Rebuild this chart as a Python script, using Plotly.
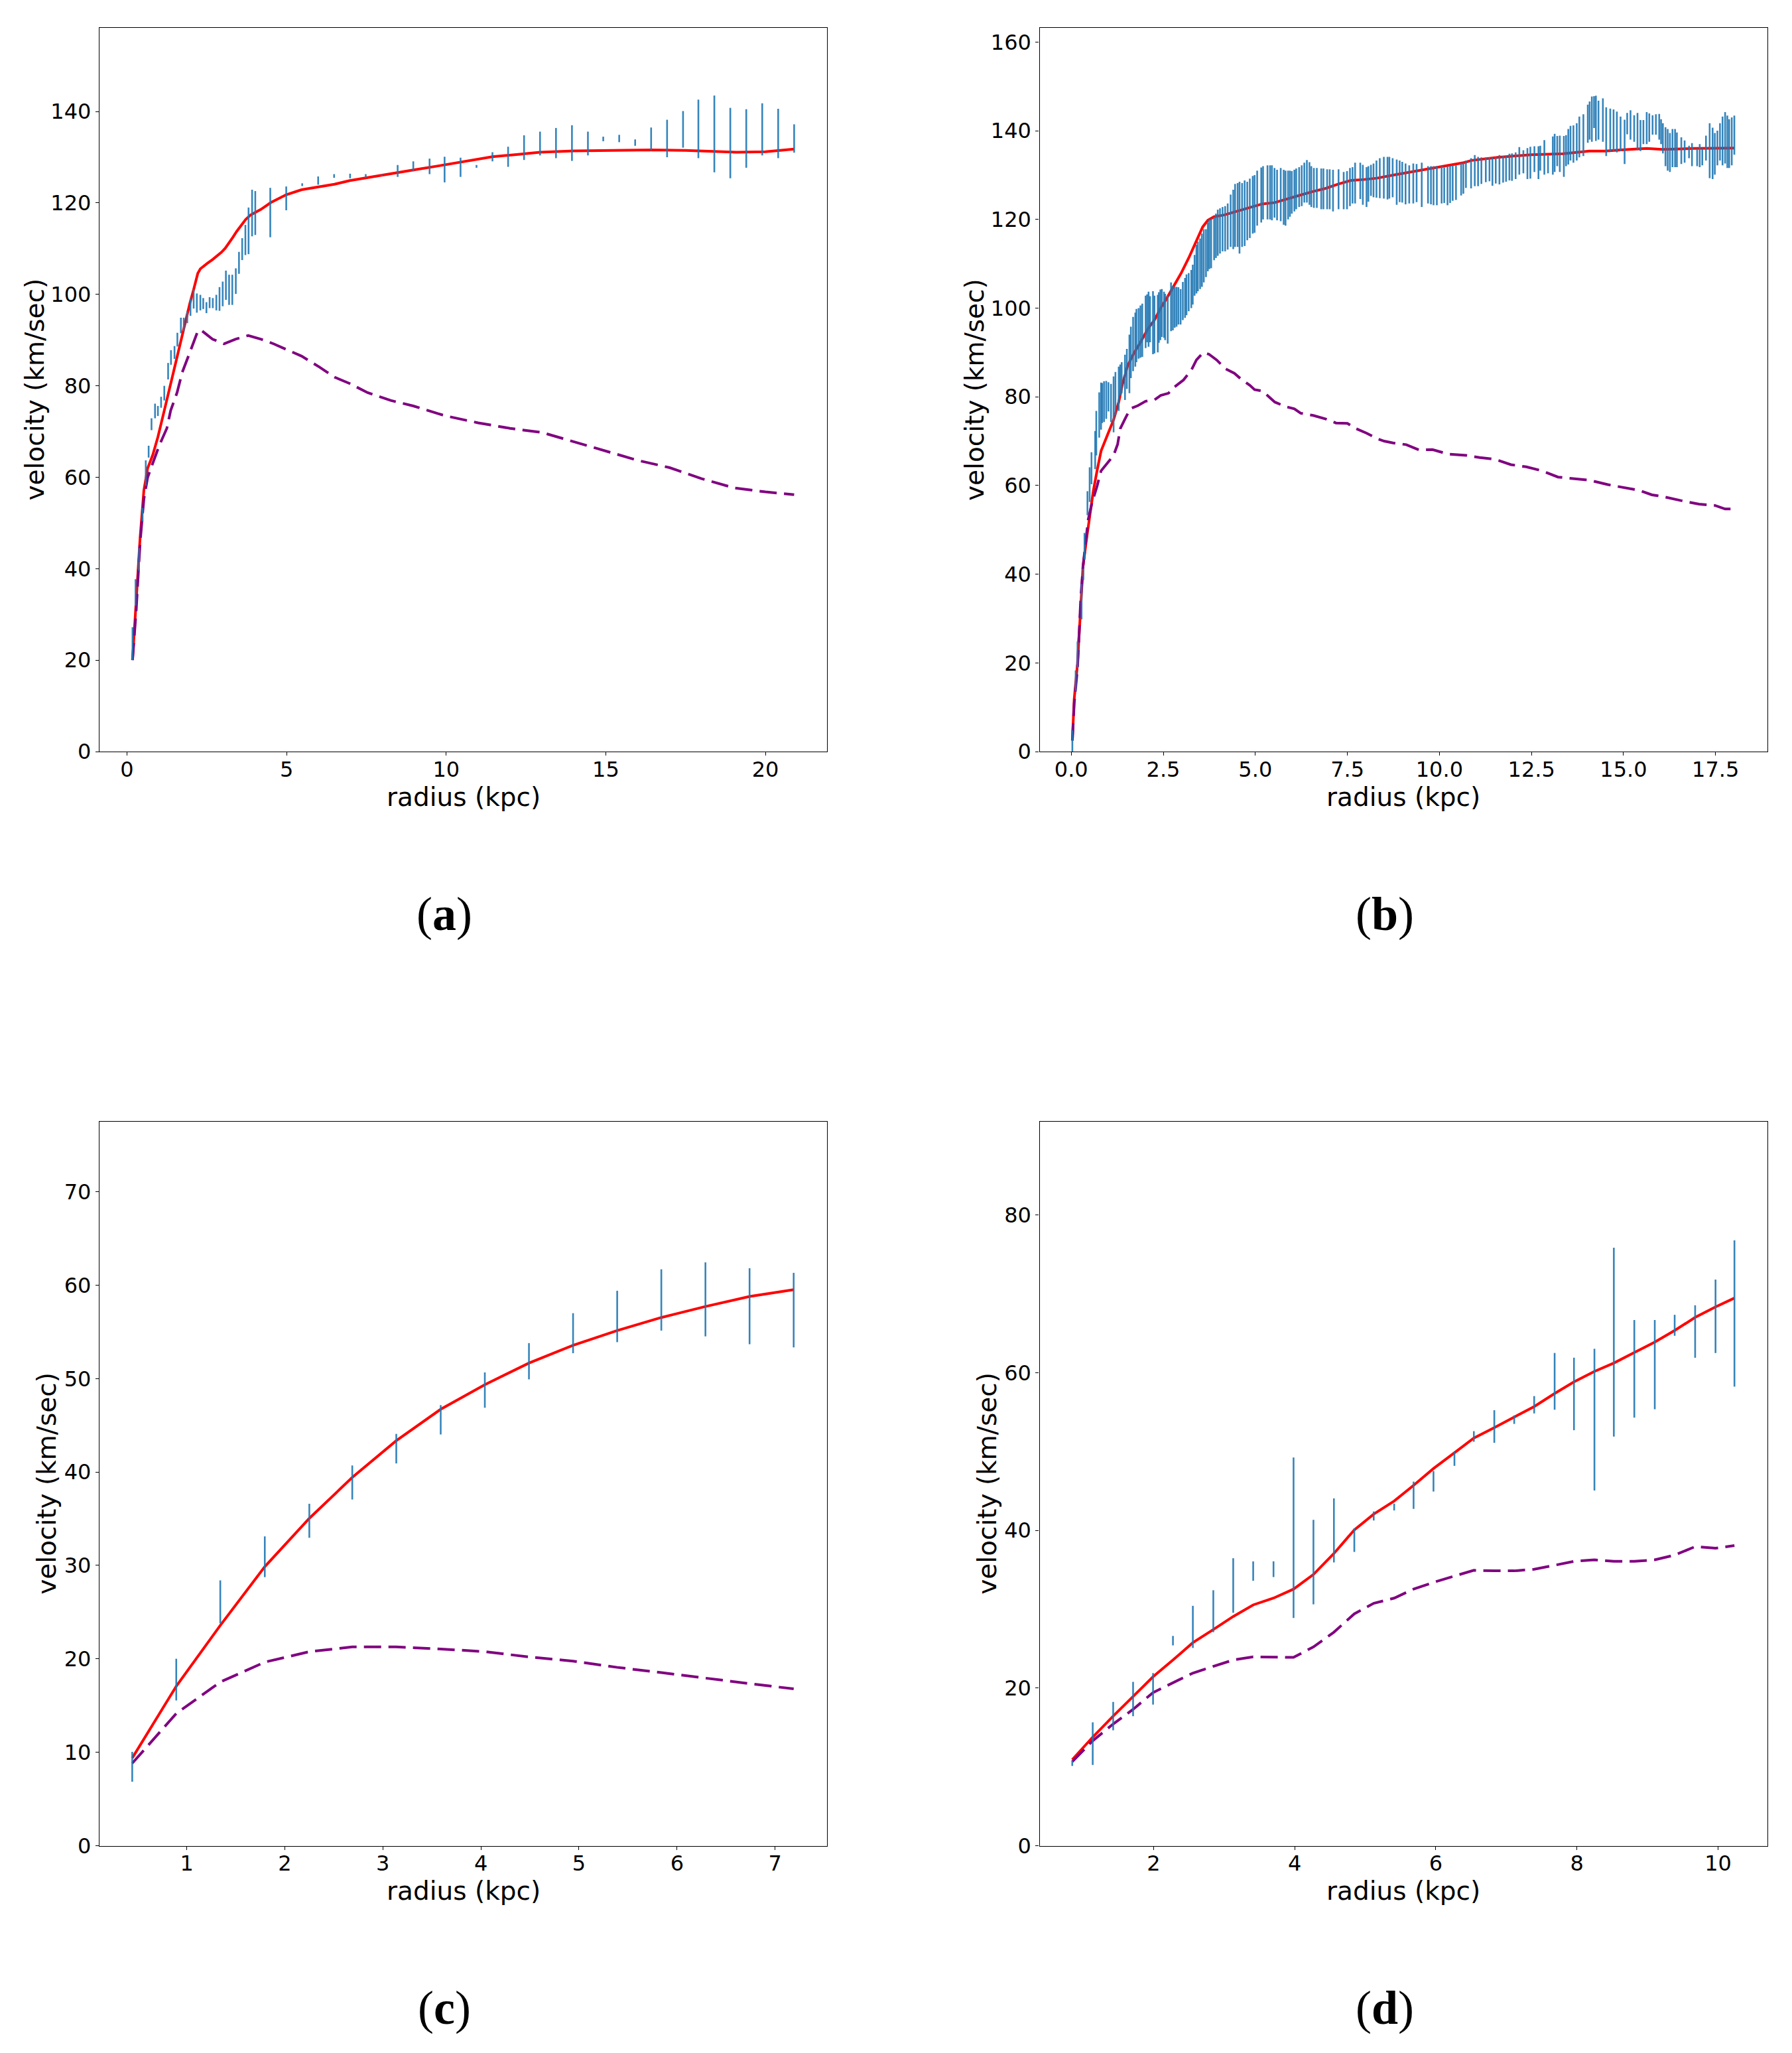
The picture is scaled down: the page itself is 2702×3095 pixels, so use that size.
import plotly.graph_objects as go

# ---------------- Panel (a) ----------------
a_r = [0.175,0.27,0.38,0.49,0.59,0.68,0.77,0.88,0.97,1.07,1.17,1.29,1.38,1.49,1.58,1.69,1.78,1.89,1.99,2.09,
       2.19,2.30,2.39,2.49,2.59,2.69,2.80,2.90,3.00,3.10,3.20,3.30,3.41,3.51,3.61,3.71,3.81,3.92,4.02,4.49,
       4.99,5.49,5.99,6.49,6.99,7.48,7.98,8.48,8.97,9.48,9.95,10.45,10.95,11.45,11.94,12.44,12.94,13.44,13.94,14.44,
       14.92,15.42,15.92,16.42,16.92,17.42,17.90,18.40,18.90,19.40,19.90,20.40,20.90]
a_v = [23.6,34.8,42.0,51.8,60.9,65.6,71.6,74.5,74.5,76.4,78.4,83.2,86.2,87.3,90.1,93.2,93.4,95.0,97.2,99.0,
       98.1,98.2,98.0,97.1,98.2,98.1,98.2,99.0,100.1,102.0,101.0,101.0,102.9,106.9,109.9,111.9,113.9,117.8,117.8,117.9,
       121.0,124.0,124.9,125.9,125.9,125.9,126.1,127.0,128.0,128.0,127.3,127.8,128.0,130.1,130.1,132.1,133.0,133.1,133.1,133.0,
       134.0,134.1,133.2,134.0,134.1,136.1,136.2,135.1,133.1,134.1,136.1,135.2,134.1]
a_e = [3.6,2.9,2.5,1.5,2.8,1.3,1.3,1.6,1.1,1.2,1.6,1.8,1.6,1.4,1.5,1.7,1.5,1.3,1.9,2.1,
       2.1,1.7,1.2,1.2,1.2,1.1,1.7,2.6,2.7,3.2,3.3,3.3,2.8,2.4,2.4,3.3,5.1,5.1,4.8,5.4,
       2.6,0.3,0.9,0.4,0.5,0.4,0.2,1.3,1.1,1.7,2.8,2.1,0.3,1.0,2.2,2.7,2.6,3.3,3.9,2.6,
       0.5,0.8,0.7,2.5,4.1,4.0,6.4,8.4,7.7,6.4,5.7,5.4,3.1]
a_model_r = [0.175,0.29,0.41,0.53,0.65,0.81,0.97,1.17,1.37,1.57,1.77,1.97,2.08,2.16,2.22,2.30,2.40,2.52,2.68,2.84,
             2.96,3.08,3.20,3.32,3.44,3.56,3.72,3.88,4.2,4.51,4.99,5.47,6.03,6.5,6.98,7.62,8.42,8.97,9.75,10.5,
             11.45,12.2,12.94,14.0,14.92,16.42,17.5,18.4,19.1,20.0,20.9]
a_model_v = [20.0,32.8,46.5,57.1,62.0,64.9,68.8,74.6,80.5,86.3,92.6,98.0,100.8,103.0,104.6,105.6,106.2,106.8,107.6,108.5,
             109.2,110.1,111.2,112.5,113.8,115.0,116.4,117.4,118.6,120.1,121.8,122.9,123.5,124.1,124.9,125.6,126.5,127.2,128.1,129.0,
             130.1,130.6,131.1,131.4,131.5,131.6,131.5,131.3,131.1,131.2,131.8]
a_newt_r = [0.175,0.29,0.41,0.53,0.65,0.81,1.01,1.25,1.37,1.57,1.73,1.97,2.2,2.3,2.68,3.04,3.4,3.8,4.2,4.59,
            4.99,5.47,6.03,6.5,6.98,7.54,8.26,8.97,9.75,10.0,11.0,12.0,13.0,14.0,15.0,16.0,17.0,18.0,19.0,20.0,20.9]
a_newt_v = [20.0,30.9,45.5,55.2,60.0,63.0,66.9,70.7,74.6,78.5,82.9,87.3,91.6,92.3,90.2,89.2,90.2,91.0,90.2,89.2,
            88.0,86.5,84.1,81.9,80.5,78.5,76.8,75.6,73.9,73.4,71.9,70.7,69.8,67.8,65.8,63.7,62.1,59.7,57.7,56.8,56.2]

# ---------------- Panel (b) ----------------
b_r = [0.03,0.12,0.17,0.28,0.33,0.36,0.44,0.50,0.55,0.65,
       0.68,0.76,0.81,0.84,0.89,0.95,1.01,1.08,1.15,1.20,
       1.29,1.33,1.37,1.46,1.51,1.58,1.62,1.68,1.74,1.77,
       1.83,1.88,1.93,2.02,2.06,2.10,2.14,2.22,2.26,2.35,
       2.38,2.42,2.46,2.52,2.55,2.62,2.71,2.76,2.81,2.86,
       2.91,2.97,3.03,3.09,3.13,3.19,3.26,3.30,3.35,3.40,
       3.44,3.50,3.55,3.60,3.66,3.71,3.75,3.80,3.88,3.93,
       3.98,4.04,4.11,4.18,4.25,4.33,4.40,4.45,4.52,4.57,
       4.64,4.71,4.78,4.85,4.93,4.98,5.05,5.16,5.21,5.33,
       5.40,5.45,5.52,5.59,5.69,5.77,5.82,5.89,5.94,5.99,
       6.06,6.11,6.19,6.26,6.33,6.40,6.47,6.52,6.59,6.67,
       6.79,6.85,6.95,7.02,7.11,7.26,7.40,7.49,7.57,7.64,
       7.71,7.85,7.92,8.02,8.07,8.14,8.21,8.29,8.38,8.49,
       8.59,8.64,8.73,8.84,8.92,8.99,9.08,9.18,9.29,9.38,
       9.52,9.69,9.77,9.84,9.93,10.06,10.13,10.22,10.29,10.36,
       10.45,10.59,10.65,10.72,10.86,10.96,11.05,11.14,11.26,11.36,
       11.44,11.53,11.63,11.73,11.81,11.90,11.97,12.07,12.17,12.28,
       12.39,12.47,12.58,12.69,12.74,12.85,12.95,13.08,13.13,13.20,
       13.27,13.38,13.44,13.50,13.56,13.64,13.73,13.80,13.91,14.03,
       14.08,14.14,14.20,14.25,14.32,14.44,14.53,14.64,14.73,14.82,
       14.92,15.03,15.10,15.19,15.29,15.38,15.46,15.54,15.63,15.70,
       15.79,15.88,15.97,16.02,16.07,16.14,16.20,16.26,16.33,16.40,
       16.45,16.57,16.66,16.78,16.86,17.00,17.07,17.14,17.24,17.34,
       17.42,17.48,17.55,17.62,17.69,17.76,17.82,17.87,17.94,18.01]
b_v = [2.4,16.0,21.8,33.8,40.0,46.3,56.0,60.2,63.9,68.0,
       71.8,75.9,77.9,78.6,78.9,79.3,80.0,78.6,78.3,80.7,
       81.8,83.8,84.3,84.4,86.3,87.4,90.0,91.9,92.9,93.8,
       94.3,94.7,95.0,96.9,97.7,97.5,97.5,96.7,96.3,96.5,
       97.9,98.5,98.9,98.5,98.0,97.4,100.3,100.0,100.2,100.3,
       100.5,100.3,101.6,102.3,103.0,103.6,104.3,105.3,107.4,108.8,
       109.4,110.0,110.8,111.8,112.4,113.8,114.4,114.6,115.7,116.3,
       117.0,117.4,117.8,117.9,118.4,119.7,120.0,120.9,121.0,120.4,
       121.0,121.4,121.9,122.5,123.3,123.5,124.8,125.5,126.0,126.1,
       126.1,126.0,126.0,125.5,125.6,125.0,124.8,125.5,125.8,126.1,
       126.5,126.9,127.3,127.6,128.3,128.6,128.1,127.4,127.1,127.1,
       126.9,126.9,126.8,126.8,126.5,126.8,126.5,126.6,127.3,127.7,
       128.2,128.7,127.8,127.3,128.0,128.8,128.8,129.1,129.3,129.4,
       129.3,129.4,129.4,128.4,128.6,128.4,128.0,127.9,128.1,128.2,
       127.8,127.8,127.7,127.6,127.6,127.8,127.7,127.6,127.9,128.2,
       128.3,129.1,129.3,130.2,130.4,131.0,130.8,131.0,131.2,131.3,
       130.8,131.1,131.2,131.3,131.4,131.8,131.8,132.1,133.2,133.0,
       132.6,132.8,133.6,132.8,133.8,134.0,132.4,134.4,135.0,135.4,
       134.8,134.2,135.5,136.4,137.2,137.0,137.5,138.6,139.0,141.6,
       142.3,142.6,144.2,142.8,142.4,142.4,139.8,140.2,140.1,139.7,
       139.3,137.5,141.6,141.3,140.5,139.8,138.9,139.7,140.6,140.7,
       141.3,141.4,140.9,139.8,138.3,136.4,135.7,135.1,136.1,136.1,
       135.7,135.5,135.3,135.2,134.6,134.0,134.4,134.1,136.1,135.5,
       134.9,134.8,136.1,137.5,137.7,138.4,137.5,137.1,137.6,139.0]
b_e = [2.4,2.3,3.0,4.0,1.3,3.0,2.7,3.9,3.6,4.3,
       5.0,5.1,5.3,4.5,4.6,4.3,3.3,4.3,6.3,4.9,
       5.0,3.5,3.5,5.1,4.5,6.6,5.8,6.1,6.1,6.0,
       5.7,5.9,6.0,5.9,5.4,6.2,5.2,7.1,6.5,6.5,
       5.7,5.7,5.4,5.2,5.2,5.4,5.5,5.0,4.6,4.5,
       4.2,4.0,4.3,4.5,4.6,4.3,4.3,4.5,4.6,5.5,
       5.6,5.7,6.0,6.0,5.4,5.5,5.6,5.6,4.9,5.0,
       5.2,5.1,5.0,5.1,5.2,5.9,6.7,7.1,7.2,8.1,
       7.2,7.4,6.6,6.7,6.5,6.5,6.2,6.2,6.0,6.1,
       6.1,6.2,5.6,5.7,6.0,6.2,6.2,5.5,5.2,4.8,
       4.7,4.6,4.5,4.6,4.5,4.8,4.8,4.6,4.5,4.5,
       4.6,4.6,4.5,4.5,4.7,4.5,4.2,4.3,4.3,4.1,
       4.6,4.1,4.5,4.5,4.0,3.5,3.8,4.2,4.5,4.7,
       4.8,4.7,4.4,5.1,4.7,4.6,4.6,4.3,4.5,4.3,
       5.0,4.2,4.3,4.4,4.4,4.2,4.0,4.4,4.2,4.0,
       3.9,3.7,3.5,3.1,3.4,3.5,3.3,3.0,2.8,2.7,
       3.2,3.0,3.3,3.0,2.9,3.0,3.1,3.0,3.1,2.6,
       3.5,3.6,2.9,3.7,2.8,3.9,2.0,4.3,4.3,3.4,
       4.1,4.6,3.5,4.0,3.9,4.2,4.2,4.6,4.7,4.3,
       4.3,5.1,3.6,5.1,4.4,4.9,5.5,4.8,4.7,4.6,
       3.9,5.0,2.4,3.3,3.0,4.2,3.5,2.7,3.6,3.2,
       2.2,2.3,2.9,2.8,3.4,4.4,4.7,4.4,4.3,4.3,
       3.9,3.0,2.5,1.4,2.6,2.0,2.6,1.9,2.8,6.2,
       5.8,4.7,3.9,4.2,5.5,5.8,5.9,5.5,5.4,4.4]
b_model_r = [0.03,0.08,0.17,0.26,0.32,0.43,0.50,0.60,0.70,0.81,0.98,1.15,1.29,1.39,1.53,1.70,1.88,2.08,2.26,2.43,
             2.60,2.77,2.98,3.19,3.40,3.57,3.71,3.88,4.15,4.50,4.85,5.19,5.53,5.89,6.23,6.57,6.91,7.26,7.60,7.95,
             8.30,8.74,9.45,10.0,10.66,10.87,11.58,12.5,13.36,14.07,14.5,15.0,15.63,16.06,16.91,18.01]
b_model_v = [2.5,11.8,19.8,33.8,41.8,48.8,53.3,58.8,63.3,67.8,71.3,74.8,78.8,82.8,87.0,89.8,92.3,95.3,97.3,100.0,
             102.3,104.8,107.8,111.3,115.3,118.3,119.8,120.6,121.0,121.8,122.6,123.5,123.8,124.6,125.5,126.3,127.0,128.0,128.8,129.0,
             129.3,130.0,131.0,131.9,132.8,133.3,134.0,134.6,134.8,135.4,135.4,135.7,136.0,135.8,136.0,136.1]
b_newt_r = [0.03,0.08,0.17,0.26,0.32,0.39,0.46,0.57,0.70,0.81,0.98,1.15,1.26,1.33,1.46,1.60,1.81,2.02,2.26,2.43,
            2.64,2.77,3.05,3.26,3.40,3.59,3.74,3.95,4.19,4.43,4.64,4.85,4.98,5.19,5.33,5.53,5.82,6.06,6.23,6.57,
            6.91,7.19,7.50,7.74,8.02,8.30,8.50,8.74,9.10,9.45,9.81,10.23,10.73,11.09,11.51,11.94,12.36,12.79,13.22,13.64,
            14.07,14.57,15.06,15.42,15.77,16.13,16.56,17.05,17.48,17.76,18.01]
b_newt_v = [2.5,10.8,18.8,34.8,41.8,46.8,52.3,56.3,59.8,63.3,65.0,66.8,69.3,72.8,75.0,77.3,78.0,79.0,79.3,80.3,
            80.8,82.0,83.8,86.0,88.3,90.0,89.6,88.3,86.3,85.3,83.8,82.6,81.6,81.3,80.3,78.8,77.8,77.3,76.3,75.8,
            75.0,74.1,74.0,72.8,71.8,70.6,70.0,69.6,69.2,68.0,68.1,67.1,66.8,66.3,65.9,64.7,64.2,63.3,61.9,61.6,
            61.2,60.2,59.5,58.9,57.9,57.4,56.6,55.8,55.5,54.7,54.7]

# ---------------- Panel (c) ----------------
c_r = [0.444,0.893,1.342,1.796,2.25,2.688,3.137,3.59,4.04,4.49,4.94,5.39,5.84,6.29,6.74,7.19]
c_v = [8.45,17.78,26.1,30.93,34.78,38.88,42.5,45.59,48.77,51.86,54.86,56.65,58.42,58.48,57.75,57.33]
c_e = [1.6,2.23,2.3,2.18,1.82,1.82,1.58,1.57,1.89,1.94,2.14,2.75,3.28,3.96,4.07,3.99]
c_model_v = [9.38,17.07,23.58,29.87,35.04,39.42,43.35,46.72,49.35,51.66,53.57,55.14,56.54,57.72,58.79,59.52]
c_newt_v = [8.82,14.15,17.52,19.65,20.77,21.28,21.28,21.06,20.77,20.21,19.76,19.09,18.53,17.91,17.35,16.79]

# ---------------- Panel (d) ----------------
d_r = [0.848,1.138,1.428,1.71,1.993,2.275,2.557,2.847,3.129,3.412,3.70,3.984,4.266,4.556,4.845,5.12,5.41,
       5.685,5.967,6.264,6.539,6.829,7.111,7.394,7.684,7.958,8.248,8.523,8.813,9.103,9.385,9.675,9.964,10.232]
d_v = [10.45,12.95,16.44,18.61,19.9,26.02,27.76,29.75,33.01,34.84,35.08,39.07,35.98,40.0,38.77,41.83,42.96,
       44.46,46.23,49.06,51.92,53.18,54.05,55.94,58.91,57.31,54.05,63.89,60.5,61.03,66.02,65.23,67.16,67.52]
d_e = [0.33,2.7,1.8,2.17,2.0,0.6,2.67,2.66,3.46,1.23,1.0,10.18,5.36,4.06,1.5,0.57,0.43,
       1.73,1.3,0.87,0.67,2.07,0.54,1.1,3.6,4.6,8.99,11.98,6.19,5.66,1.33,3.33,4.66,9.28]
d_model_v = [10.92,13.78,16.44,18.9,21.43,23.56,25.76,27.42,29.08,30.55,31.41,32.55,34.41,37.07,40.07,42.06,43.73,
             45.72,47.85,49.85,51.71,53.04,54.38,55.71,57.37,58.84,60.17,61.23,62.56,63.89,65.36,67.02,68.35,69.48]
d_newt_v = [10.65,13.31,15.44,17.3,19.43,20.63,21.9,22.76,23.56,23.96,23.89,23.89,25.22,27.09,29.42,30.75,31.41,
            32.55,33.41,34.21,34.94,34.87,34.87,35.07,35.61,36.07,36.27,36.07,36.07,36.27,36.87,37.94,37.74,38.07]

# ---------------- axes settings ----------------
x_ranges = [[-0.86, 21.93], [-0.86, 18.91], [0.11, 7.53], [0.385, 10.70]]
y_ranges = [[0, 158.3], [0, 163.2], [0, 77.5], [0, 91.85]]
x_ticks = [[0, 5, 10, 15, 20], [0, 2.5, 5, 7.5, 10, 12.5, 15, 17.5], [1, 2, 3, 4, 5, 6, 7], [2, 4, 6, 8, 10]]
y_ticks = [list(range(0, 141, 20)), list(range(0, 161, 20)), list(range(0, 71, 10)), list(range(0, 81, 20))]
panel_labels = ["a", "b", "c", "d"]
x_title = "radius (kpc)"
y_title = "velocity (km/sec)"

W, H = 2702, 3095
col_px = [[150, 1247], [1567.5, 2665]]
row_px = [[42, 1133], [1691, 2782.5]]          # top, bottom (pixels from top)
col_dom = [[a / W, b / W] for a, b in col_px]
row_dom = [[1 - b / H, 1 - t / H] for t, b in row_px]

BLUE = "rgba(31,119,180,0.9)"
RED = "#ff0000"
PURPLE = "#800080"

datasets = [
    (a_r, a_v, a_e, a_model_r, a_model_v, a_newt_r, a_newt_v),
    (b_r, b_v, b_e, b_model_r, b_model_v, b_newt_r, b_newt_v),
    (c_r, c_v, c_e, c_r, c_model_v, c_r, c_newt_v),
    (d_r, d_v, d_e, d_r, d_model_v, d_r, d_newt_v),
]

fig = go.Figure()
layout = {}
font_tick = dict(family="DejaVu Sans", size=32, color="black")
font_title = dict(family="DejaVu Sans", size=39, color="black")

annotations = []
ytitle_px = [52, 1469.5, 71, 1489]

for i, (r, v, e, mr, mv, nr, nv) in enumerate(datasets):
    n = i + 1
    xa = "x" if n == 1 else f"x{n}"
    ya = "y" if n == 1 else f"y{n}"
    fig.add_trace(go.Scatter(x=mr, y=mv, mode="lines", xaxis=xa, yaxis=ya,
                             line=dict(color=RED, width=4), showlegend=False, hoverinfo="skip"))
    fig.add_trace(go.Scatter(x=nr, y=nv, mode="lines", xaxis=xa, yaxis=ya,
                             line=dict(color=PURPLE, width=4, dash="26px,11px"),
                             showlegend=False, hoverinfo="skip"))
    fig.add_trace(go.Scatter(x=r, y=v, mode="markers", xaxis=xa, yaxis=ya,
                             marker=dict(size=0, color="rgba(0,0,0,0)"),
                             error_y=dict(type="data", array=e, symmetric=True, width=0,
                                          thickness=2.6, color=BLUE),
                             showlegend=False, hoverinfo="skip"))
    row = i // 2
    col = i % 2
    common = dict(showgrid=False, zeroline=False, showline=True, mirror=True,
                  linecolor="black", linewidth=1.3, ticks="outside", ticklen=5, tickwidth=1.3,
                  tickcolor="black", tickfont=font_tick, automargin=False)
    xkey = "xaxis" if n == 1 else f"xaxis{n}"
    ykey = "yaxis" if n == 1 else f"yaxis{n}"
    layout[xkey] = dict(common, domain=col_dom[col], range=x_ranges[i], anchor=ya,
                        tickvals=x_ticks[i], ticklabelstandoff=-7,
                        ticktext=[(f"{t:.1f}" if i == 1 else f"{t:g}") for t in x_ticks[i]])
    layout[ykey] = dict(common, domain=row_dom[row], range=y_ranges[i], anchor=xa,
                        tickvals=y_ticks[i])
    # axis titles as paper annotations
    cx = (col_px[col][0] + col_px[col][1]) / 2
    annotations.append(dict(text=x_title, x=cx / W, y=1 - (row_px[row][1] + 68) / H,
                            xref="paper", yref="paper", xanchor="center", yanchor="middle",
                            showarrow=False, font=font_title))
    cy = (row_px[row][0] + row_px[row][1]) / 2
    annotations.append(dict(text=y_title, x=ytitle_px[i] / W, y=1 - cy / H, textangle=-90,
                            xref="paper", yref="paper", xanchor="center", yanchor="middle",
                            showarrow=False, font=font_title))

lab_x = [670 / W, 2088 / W]
lab_y = [1 - 1378 / H, 1 - 3027 / H]
for i, lab in enumerate(panel_labels):
    annotations.append(dict(text=f"(<b>{lab}</b>)", x=lab_x[i % 2], y=lab_y[i // 2],
                            xref="paper", yref="paper", xanchor="center", yanchor="middle",
                            showarrow=False,
                            font=dict(family="Liberation Serif", size=72, color="black")))

fig.update_layout(width=W, height=H, margin=dict(l=0, r=0, t=0, b=0),
                  paper_bgcolor="white", plot_bgcolor="white",
                  annotations=annotations, **layout)

fig.write_html("out.html", config={"displayModeBar": False},
               post_script="document.body.style.margin='0';")
